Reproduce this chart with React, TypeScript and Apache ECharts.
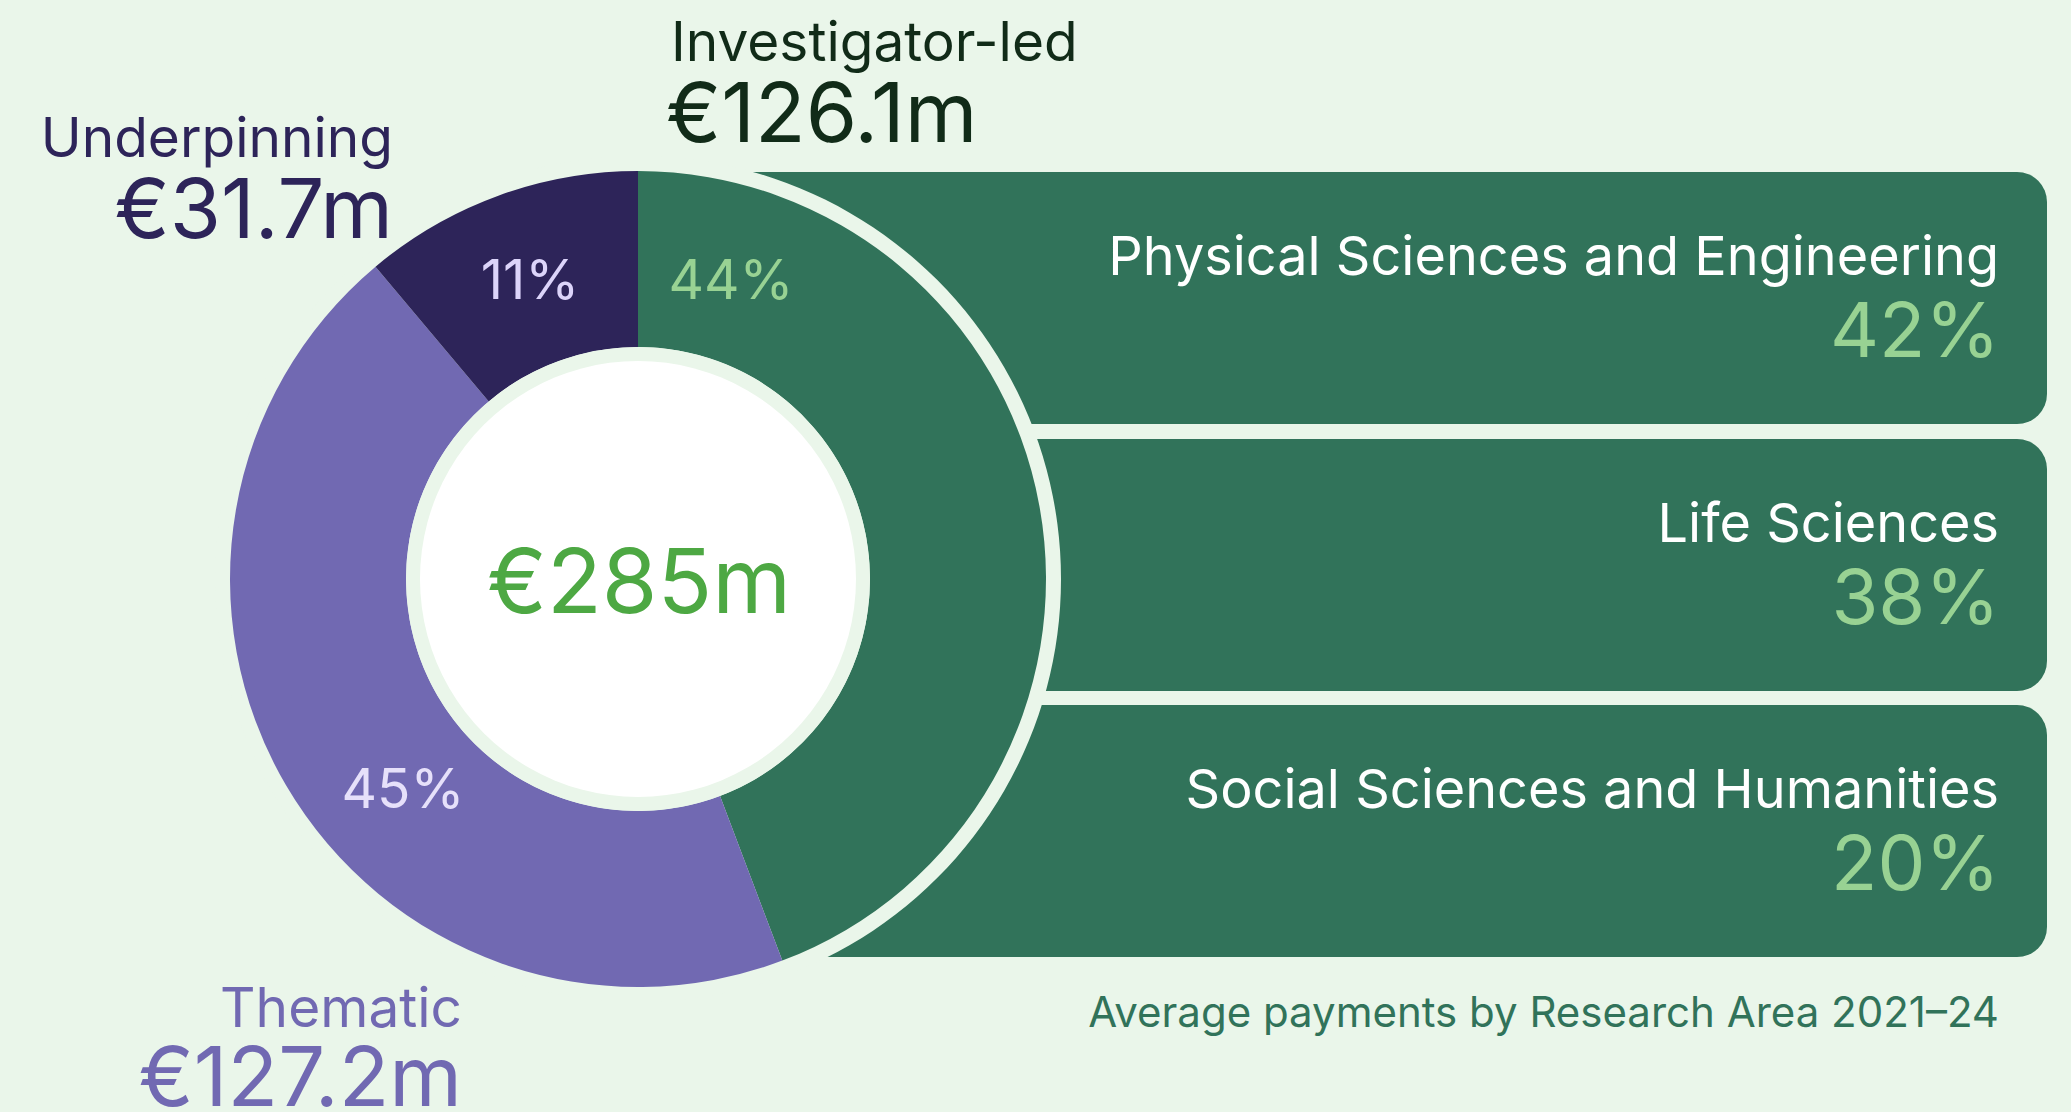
import React, { useEffect, useRef } from "react";
import * as echarts from "echarts";

// ---- Data ----
const categories = ["Investigator-led", "Thematic", "Underpinning"];
const values = [126.1, 127.2, 31.7];
const areaNames = [
  "Physical Sciences and Engineering",
  "Life Sciences",
  "Social Sciences and Humanities",
];
const areaShares = [42, 38, 20];
const caption = "Average payments by Research Area 2021–24";

// ---- Styles ----
const BG = "#EAF6EA";
const PANEL = "#31735A";
const sliceColors = ["#31735A", "#7169B2", "#2D2459"];
const nameColors = ["#112B18", "#7169B2", "#2D2459"];
const pctColors = ["#98D293", "#E6E0FA", "#DCD4FA"];
const FONT = "Inter, 'Noto Sans', sans-serif";

export default function App() {
  const ref = useRef<HTMLDivElement>(null);

  useEffect(() => {
    if (!ref.current) return;
    document.body.style.margin = "0";
    document.body.style.background = BG;
    const chart = echarts.init(ref.current, undefined, { renderer: "svg" });

    const cx = 638;
    const cy = 579;
    const rIn = 232;
    const rOut = 408;
    const sum = values.reduce((a, b) => a + b, 0);
    const pct = values.map((v) => Math.round((v / sum) * 100));
    const money = (v: number, d = 1) => "€" + v.toFixed(d) + "m";

    const txt = (
      text: string,
      x: number,
      baseline: number,
      size: number,
      color: string,
      align: string
    ) => ({
      type: "text",
      z: 10,
      silent: true,
      x,
      y: baseline - size * 0.3635,
      style: {
        text,
        fill: color,
        font: `400 ${size}px ${FONT}`,
        align,
        verticalAlign: "middle",
      },
    });

    const panelTop = [172, 439, 705];
    const panelH = 252;
    const graphics: any[] = [];
    panelTop.forEach((t, i) => {
      graphics.push({
        type: "rect",
        z: 0,
        silent: true,
        shape: { x: cx, y: t, width: 2047 - cx, height: panelH, r: 30 },
        style: { fill: PANEL },
      });
      graphics.push(txt(areaNames[i], 1999, t + 103, 54, "#FFFFFF", "right"));
      graphics.push(txt(areaShares[i] + "%", 2000, t + 185, 76, "#98D293", "right"));
    });
    graphics.push({
      type: "circle",
      z: 1,
      silent: true,
      shape: { cx, cy, r: rOut + 15 },
      style: { fill: BG },
    });
    graphics.push({
      type: "circle",
      z: 5,
      silent: true,
      shape: { cx, cy, r: rIn },
      style: { fill: BG },
    });
    graphics.push({
      type: "circle",
      z: 6,
      silent: true,
      shape: { cx, cy, r: rIn - 14 },
      style: { fill: "#FFFFFF" },
    });
    // centre total
    graphics.push(txt(money(sum, 0), 639, 613, 90, "#4DA843", "center"));
    // slice percentages
    graphics.push(txt(pct[0] + "%", 731, 299, 55, pctColors[0], "center"));
    graphics.push(txt(pct[2] + "%", 530, 299, 55, pctColors[2], "center"));
    graphics.push(txt(pct[1] + "%", 403, 808, 55, pctColors[1], "center"));
    // category names + values
    graphics.push(txt(categories[0], 671, 61, 55, nameColors[0], "left"));
    graphics.push(txt(money(values[0]), 666, 142, 83, nameColors[0], "left"));
    graphics.push(txt(categories[2], 393, 157, 55, nameColors[2], "right"));
    graphics.push(txt(money(values[2]), 393, 238, 83, nameColors[2], "right"));
    graphics.push(txt(categories[1], 462, 1027, 55, nameColors[1], "right"));
    graphics.push(txt(money(values[1]), 462, 1106, 83, nameColors[1], "right"));
    // caption
    graphics.push(txt(caption, 1999, 1027, 42, "#31735A", "right"));

    chart.setOption({
      animation: false,
      backgroundColor: BG,
      graphic: { elements: graphics },
      series: [
        {
          type: "pie",
          z: 2,
          silent: true,
          center: [cx, cy],
          radius: [rIn, rOut],
          startAngle: 90,
          clockwise: true,
          label: { show: false },
          labelLine: { show: false },
          emphasis: { disabled: true },
          itemStyle: { borderWidth: 0 },
          data: categories.map((name, i) => ({
            name,
            value: values[i],
            itemStyle: { color: sliceColors[i] },
          })),
        },
      ],
    });

    return () => chart.dispose();
  }, []);

  return (
    <div
      ref={ref}
      style={{ position: "fixed", left: 0, top: 0, width: "100vw", height: "100vh" }}
    />
  );
}
